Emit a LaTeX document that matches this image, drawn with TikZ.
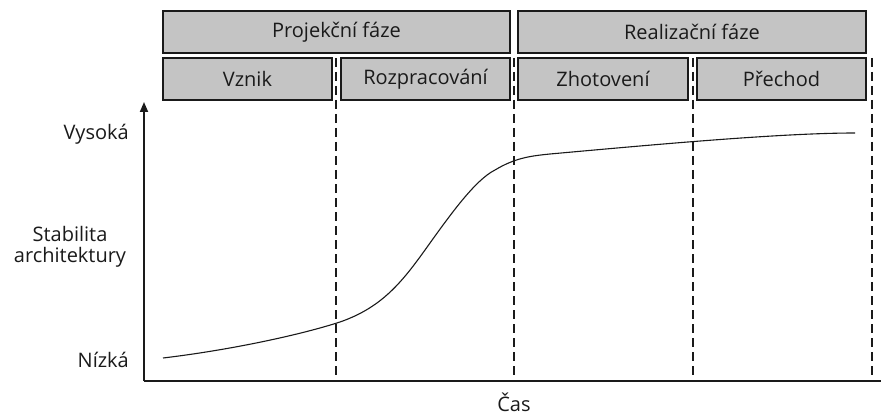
\documentclass[tikz,border=0pt]{standalone}
\usepackage{fontspec}
\setmainfont{Open Sans}
\usetikzlibrary{arrows.meta}
\definecolor{boxgray}{HTML}{C4C4C4}
\definecolor{ink}{HTML}{1A1A1A}
\tikzset{
  phase/.style={draw=ink, line width=1.3pt, fill=boxgray, minimum height=42pt, inner sep=0pt, font=\fontsize{20}{22}\selectfont, text=ink},
  lbl/.style={font=\fontsize{20}{21}\selectfont, text=ink, inner sep=0pt},
  sep/.style={draw=ink, line width=1.6pt, dash pattern=on 9pt off 5pt},
  axis/.style={draw=ink, line width=1.8pt},
}
\begin{document}
\begin{tikzpicture}[x=1pt,y=-1pt]
\useasboundingbox (0,0) rectangle (885,414);
\node[phase, minimum width=347pt] (proj) at (336.5,32) {Projekční fáze};
\node[phase, minimum width=348pt] (real) at (692,32) {Realizační fáze};
\node[phase, minimum width=169pt] (vznik) at (247.5,79) {Vznik};
\node[phase, minimum width=169pt] (rozp) at (425.5,79) {Rozpracování};
\node[phase, minimum width=170pt] (zhot) at (603,79) {Zhotovení};
\node[phase, minimum width=169pt] (prech) at (781.5,79) {Přechod};
\coordinate (o) at (144,381);
\coordinate (ytop) at (144,102);
\coordinate (xend) at (881,381);
\draw[axis, -{Triangle[length=10pt,width=8pt]}] (o) -- (ytop);
\draw[axis] (o) -- (xend);
\foreach \n/\x in {a/336,b/514,c/693,d/872} {
  \coordinate (\n t) at (\x,58);
  \coordinate (\n b) at (\x,381);
  \draw[sep] (\n t) -- (\n b);
}
\node[lbl, anchor=base east] (vys) at (129,140) {Vysoká};
\node[lbl, align=center, anchor=base] (stab) at (70,262) {Stabilita\\architektury};
\node[lbl, anchor=base east] (niz) at (129,367) {Nízká};
\node[lbl, anchor=base] (cas) at (514,411) {Čas};
\draw[ink, line width=1.1pt] (163,358) .. controls (230,350) and (300,335) .. (340,322)
  .. controls (380,308) and (400,285) .. (425,250)
  .. controls (450,215) and (475,180) .. (495,170)
  .. controls (515,158) and (530,156) .. (550,154)
  .. controls (650,145) and (780,133) .. (855,133);
\end{tikzpicture}
\end{document}
